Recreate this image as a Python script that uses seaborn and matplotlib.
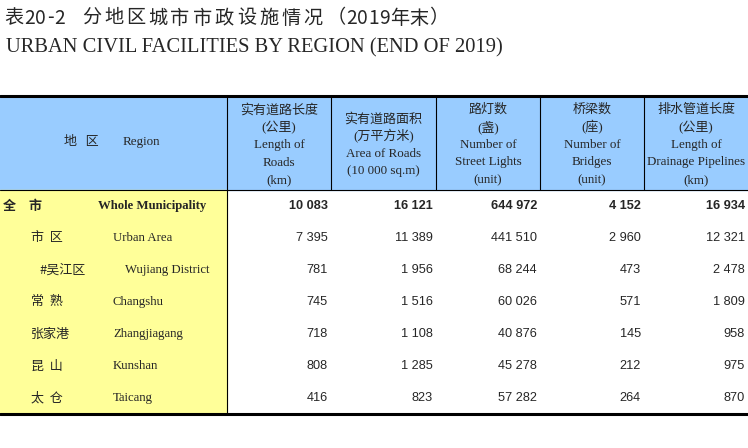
import seaborn as sns
import matplotlib.pyplot as plt
from matplotlib.patches import Rectangle

# 数据
title_cn_parts = ['表20-2', '分地区城市市政设施情况', '（2019年末）']
title_en = 'URBAN CIVIL FACILITIES BY REGION (END OF 2019)'

region_cn = ['全\u3000市', '市  区', '#吴江区', '常  熟', '张家港', '昆  山', '太  仓']
region_en = ['Whole Municipality', 'Urban Area', 'Wujiang District', 'Changshu',
             'Zhangjiagang', 'Kunshan', 'Taicang']
region_level = [0, 1, 2, 1, 1, 1, 1]

length_roads = [10083, 7395, 781, 745, 718, 808, 416]
area_roads = [16121, 11389, 1956, 1516, 1108, 1285, 823]
street_lights = [644972, 441510, 68244, 60026, 40876, 45278, 57282]
bridges = [4152, 2960, 473, 571, 145, 212, 264]
drainage = [16934, 12321, 2478, 1809, 958, 975, 870]

headers = [
    ['实有道路长度', '(公里)', 'Length of', 'Roads', '(km)'],
    ['实有道路面积', '(万平方米)', 'Area of Roads', '(10 000 sq.m)'],
    ['路灯数', '(盏)', 'Number of', 'Street Lights', '(unit)'],
    ['桥梁数', '(座)', 'Number of', 'Bridges', '(unit)'],
    ['排水管道长度', '(公里)', 'Length of', 'Drainage Pipelines', '(km)'],
]
columns = [length_roads, area_roads, street_lights, bridges, drainage]

sns.set_theme(style='white')
CJK = ['Noto Sans CJK SC', 'DejaVu Sans']
SERIF = ['Liberation Serif', 'Noto Sans CJK SC']
SANS = ['Liberation Sans', 'DejaVu Sans']

fig = plt.figure(figsize=(7.48, 4.48), dpi=100)
ax = fig.add_axes([0, 0, 1, 1])
ax.set_xlim(0, 748)
ax.set_ylim(448, 0)
ax.axis('off')
renderer = fig.canvas.get_renderer()


def tracked_text(x, y, s, spacing, **kw):
    # 逐字绘制，加字距
    for ch in s:
        t = ax.text(x, y, ch, va='center', ha='left', **kw)
        w = t.get_window_extent(renderer).width
        x += w + spacing
    return x


# 标题
tkw = dict(family=CJK, fontsize=13.8, weight='medium')
tracked_text(4, 18, title_cn_parts[0], 0.8, **tkw)
x = tracked_text(82, 18, title_cn_parts[1], 3.0, **tkw)
tracked_text(x + 1, 18, title_cn_parts[2], 0.3, **tkw)
ax.text(6, 48, title_en, family=SERIF, fontsize=14.8, va='center', ha='left')

# 表格布局
col_edges = [0, 227, 331, 436, 540, 644, 748]
head_top, head_bot = 96, 190
row_h = 32
body_bot = head_bot + row_h * len(region_cn)

ax.add_patch(Rectangle((0, head_top), 748, head_bot - head_top, color='#99CCFF', zorder=0))
ax.add_patch(Rectangle((0, head_bot), 227, body_bot - head_bot, color='#FFFF99', zorder=0))

ax.plot([0, 748], [head_top, head_top], color='black', lw=2.2)
ax.plot([0, 748], [body_bot, body_bot], color='black', lw=2.2)
ax.plot([0, 748], [head_bot, head_bot], color='black', lw=0.8)
for xe in col_edges[1:-1]:
    ax.plot([xe, xe], [head_top, head_bot], color='black', lw=0.8)
ax.plot([227, 227], [head_bot, body_bot], color='black', lw=0.8)

# 表头
ax.text(64, 142, '地   区', family=CJK, fontsize=9.4, va='center', ha='left')
ax.text(123, 142, 'Region', family=SERIF, fontsize=9.4, va='center', ha='left')
for i, lines in enumerate(headers):
    cx = (col_edges[i + 1] + col_edges[i + 2]) / 2
    n = len(lines)
    for j, line in enumerate(lines):
        y = 145 + (j - (n - 1) / 2) * 17.5
        ax.text(cx, y, line, family=SERIF, fontsize=9.4, va='center', ha='center')

# 表体
cn_x = {0: 3, 1: 31, 2: 39}
en_x = {0: 98, 1: 113, 2: 125}
for r in range(len(region_cn)):
    y = head_bot + row_h * (r + 0.5)
    bold = 'bold' if region_level[r] == 0 else 'normal'
    ax.text(cn_x[region_level[r]], y, region_cn[r], family=CJK, fontsize=9.4,
            weight=bold, va='center', ha='left')
    ax.text(en_x[region_level[r]], y, region_en[r], family=SERIF, fontsize=9.2,
            weight=bold, va='center', ha='left')
    for c, vals in enumerate(columns):
        txt = f'{vals[r]:,}'.replace(',', ' ')
        ax.text(col_edges[c + 2] - 3, y, txt, family=SANS, fontsize=9.2,
                weight=bold, va='center', ha='right')

fig.savefig('out.png', dpi=100)
